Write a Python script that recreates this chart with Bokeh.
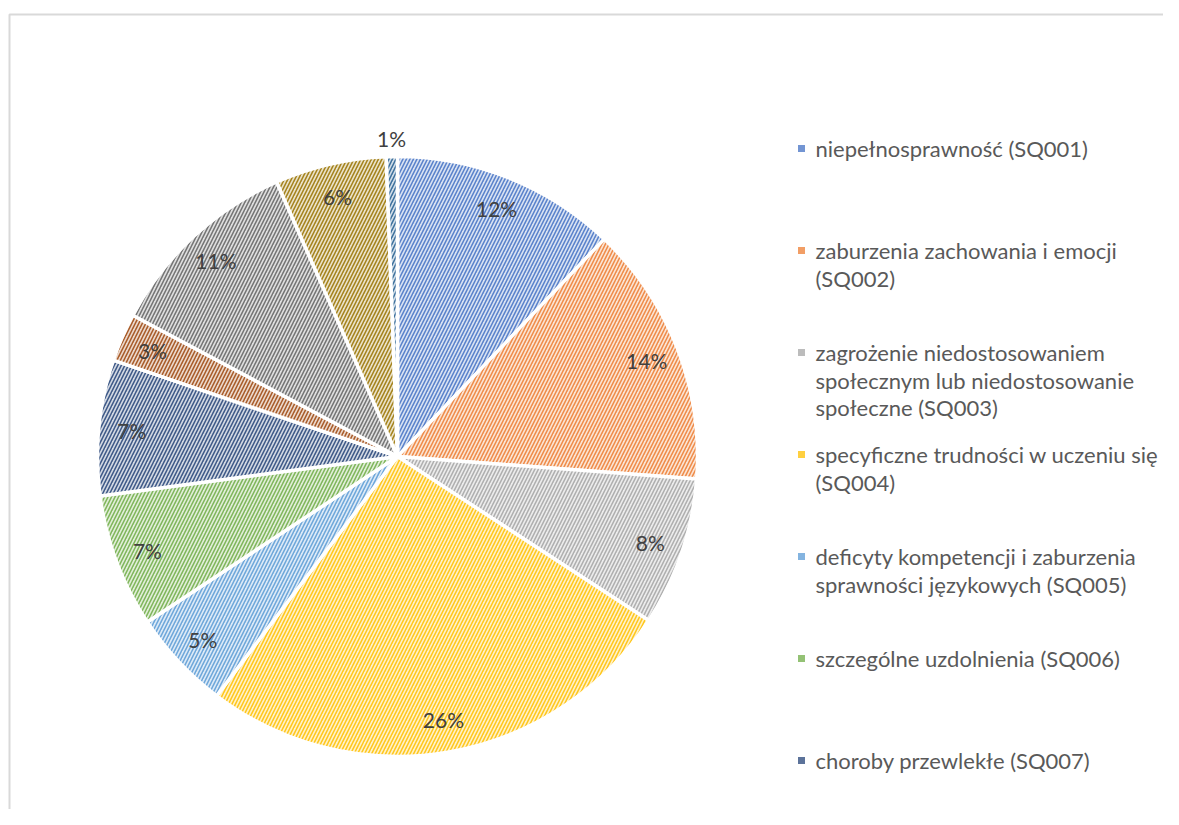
import math
from bokeh.plotting import figure
from bokeh.models import Range1d, ColumnDataSource
from bokeh.core.properties import value
from bokeh.embed import file_html
from bokeh.resources import INLINE

# ---- data ----
categories = [
    "niepełnosprawność (SQ001)",
    "zaburzenia zachowania i emocji\n(SQ002)",
    "zagrożenie niedostosowaniem\nspołecznym lub niedostosowanie\nspołeczne (SQ003)",
    "specyficzne trudności w uczeniu się\n(SQ004)",
    "deficyty kompetencji i zaburzenia\nsprawności językowych (SQ005)",
    "szczególne uzdolnienia (SQ006)",
    "choroby przewlekłe (SQ007)",
    "SQ008", "SQ009", "SQ010", "SQ011",
]
shares = [12.1, 14.1, 8.0, 26.1, 5.4, 7.2, 7.3, 2.6, 10.6, 6.0, 0.6]
colors = ["#4472C4", "#ED7D31", "#A5A5A5", "#FFC000", "#5B9BD5", "#70AD47",
          "#264478", "#9E480E", "#636363", "#997300", "#255E91"]
legend_count = 7

# ---- layout ----
W, H = 1163, 809
OFF = 0  # observed page offset of the figure
def fx(px):  # page x -> figure x
    return px - OFF
def fy(py):  # page y -> figure y (y up)
    return H - (py - OFF)

cx, cy, R = fx(397), fy(456), 300

p = figure(width=W, height=H, output_backend="svg", toolbar_location=None,
           x_range=Range1d(0, W), y_range=Range1d(0, H), min_border=0)
p.axis.visible = False
p.grid.visible = False
p.outline_line_color = None
p.background_fill_color = "white"
p.border_fill_color = "white"

# chart frame (left and top edges only visible)
p.line([fx(9), fx(9), W + 5], [-5, fy(14), fy(14)], line_color="#D9D9D9", line_width=2)

total = float(sum(shares))
starts, ends, lx, ly, labels = [], [], [], [], []
cum = 0.0
for s in shares:
    a0 = math.pi / 2 - 2 * math.pi * cum / total
    a1 = math.pi / 2 - 2 * math.pi * (cum + s) / total
    starts.append(a0)
    ends.append(a1)
    mid = (a0 + a1) / 2
    rf = 0.89 if s / total >= 0.02 else 1.06
    lx.append(cx + rf * R * math.cos(mid))
    ly.append(cy + rf * R * math.sin(mid))
    labels.append(f"{max(1, round(100 * s / total))}%")
    cum += s

src = ColumnDataSource(dict(start=starts, end=ends, color=colors))
p.wedge(x=cx, y=cy, radius=R, start_angle="start", end_angle="end",
        direction="clock", source=src,
        fill_color="color", fill_alpha=0.2,
        hatch_pattern="/", hatch_color="color", hatch_scale=7, hatch_weight=1.6,
        hatch_alpha=0.85,
        line_color="white", line_width=3.5)

p.text(x=lx, y=ly, text=labels, text_align="center", text_baseline="middle",
       text_font=value("Lato"), text_font_size="21px", text_color="#404040")

# legend
mx, tx = fx(801), fx(815)
row0, row_gap, line_gap = 148, 102, 27.5
sq_x, sq_y, sq_c = [], [], []
t_x, t_y, t_t = [], [], []
for i in range(legend_count):
    y0 = row0 + i * row_gap
    sq_x.append(mx)
    sq_y.append(fy(y0))
    sq_c.append(colors[i])
    for j, line in enumerate(categories[i].split("\n")):
        t_x.append(tx)
        t_y.append(fy(y0 + j * line_gap))
        t_t.append(line)
p.rect(x=sq_x, y=sq_y, width=7, height=7, fill_color=sq_c, fill_alpha=0.75,
       line_color=None)
p.text(x=t_x, y=t_y, text=t_t, text_align="left", text_baseline="middle",
       text_font=value("Lato"), text_font_size="22px", text_color="#595959")

open("out.html", "w").write(file_html(p, INLINE))
